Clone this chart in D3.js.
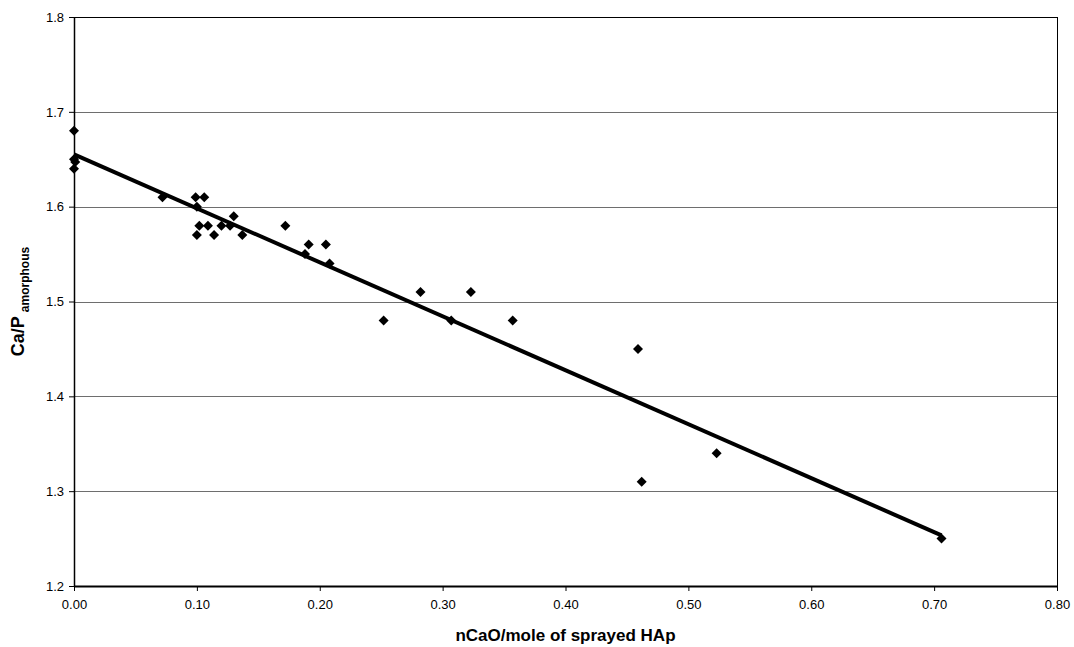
<!DOCTYPE html>
<html>
<head>
<meta charset="utf-8">
<script src="https://cdn.jsdelivr.net/npm/d3@7"></script>
<style>
  body { margin: 0; background: #fff; }
  svg { display: block; font-family: "Liberation Sans", Arial, sans-serif; }
</style>
</head>
<body>
<div id="chart"></div>
<script>
const width = 1074
const height = 647
const margin = { top: 17, right: 17, bottom: 61, left: 74 }

// nCaO per mole of sprayed HAp
const xValues = [0, 0, 0, 0.001, 0.072, 0.099, 0.106, 0.100, 0.102, 0.109, 0.100, 0.114, 0.120, 0.127,
  0.130, 0.137, 0.172, 0.188, 0.191, 0.205, 0.208, 0.252, 0.282, 0.307, 0.323, 0.357,
  0.459, 0.462, 0.523, 0.706]
// Ca/P amorphous
const yValues = [1.68, 1.65, 1.64, 1.647, 1.61, 1.61, 1.61, 1.60, 1.58, 1.58, 1.57, 1.57, 1.58, 1.58,
  1.59, 1.57, 1.58, 1.55, 1.56, 1.56, 1.54, 1.48, 1.51, 1.48, 1.51, 1.48,
  1.45, 1.31, 1.34, 1.25]

const xTicks = [0, 0.1, 0.2, 0.3, 0.4, 0.5, 0.6, 0.7, 0.8]
const yTicks = [1.2, 1.3, 1.4, 1.5, 1.6, 1.7, 1.8]

const points = xValues.map((x, i) => ({ x: x, y: yValues[i] }))

const svg = d3.select('#chart').append('svg')
  .attr('width', width)
  .attr('height', height)

const xScale = d3.scaleLinear().domain([0, 0.8]).range([margin.left, width - margin.right])
const yScale = d3.scaleLinear().domain([1.2, 1.8]).range([height - margin.bottom, margin.top])

// Gridlines
svg.append('g')
  .selectAll('line')
  .data(yTicks.slice(1, -1))
  .join('line')
  .attr('x1', margin.left)
  .attr('x2', width - margin.right)
  .attr('y1', (d) => Math.round(yScale(d)) + 0.5)
  .attr('y2', (d) => Math.round(yScale(d)) + 0.5)
  .attr('stroke', '#6e6e6e')
  .attr('stroke-width', 1)

// Plot frame (top, right)
svg.append('rect')
  .attr('x', margin.left + 0.5)
  .attr('y', margin.top + 0.5)
  .attr('width', width - margin.left - margin.right)
  .attr('height', height - margin.top - margin.bottom)
  .attr('fill', 'none')
  .attr('stroke', '#000')
  .attr('stroke-width', 1)

// Axes
const xAxis = svg.append('g')
  .attr('transform', `translate(0,${height - margin.bottom})`)
  .call(d3.axisBottom(xScale).tickValues(xTicks).tickFormat(d3.format('.2f')).tickSize(5).tickSizeOuter(0))
const yAxis = svg.append('g')
  .attr('transform', `translate(${margin.left},0)`)
  .call(d3.axisLeft(yScale).tickValues(yTicks).tickFormat(d3.format('.1f')).tickSize(5).tickSizeOuter(0))

xAxis.select('.domain').attr('stroke-width', 2)
yAxis.select('.domain').attr('stroke-width', 1.5)
xAxis.selectAll('text').attr('font-size', 13).attr('fill', '#000').attr('dy', '1.15em')
yAxis.selectAll('text').attr('font-size', 13).attr('fill', '#000').attr('x', -10)

// Linear trendline (least squares over the data)
const mx = d3.mean(points, (d) => d.x)
const my = d3.mean(points, (d) => d.y)
const slope = d3.sum(points, (d) => (d.x - mx) * (d.y - my)) / d3.sum(points, (d) => (d.x - mx) ** 2)
const intercept = my - slope * mx
const xMax = d3.max(points, (d) => d.x)
const trend = [{ x: 0, y: intercept }, { x: xMax, y: intercept + slope * xMax }]

svg.append('path')
  .datum(trend)
  .attr('d', d3.line().x((d) => xScale(d.x)).y((d) => yScale(d.y)))
  .attr('fill', 'none')
  .attr('stroke', '#000')
  .attr('stroke-width', 4)

// Diamond markers
const half = 5
svg.append('g')
  .selectAll('path')
  .data(points)
  .join('path')
  .attr('transform', (d) => `translate(${xScale(d.x)},${yScale(d.y)})`)
  .attr('d', `M0,${-half}L${half},0L0,${half}L${-half},0Z`)
  .attr('fill', '#000')

// Axis titles
svg.append('text')
  .attr('x', (margin.left + width - margin.right) / 2)
  .attr('y', 641)
  .attr('text-anchor', 'middle')
  .attr('font-size', 17)
  .attr('font-weight', 'bold')
  .text('nCaO/mole of sprayed HAp')

const yTitle = svg.append('text')
  .attr('transform', `translate(24,${(margin.top + height - margin.bottom) / 2}) rotate(-90)`)
  .attr('text-anchor', 'middle')
  .attr('font-weight', 'bold')
yTitle.append('tspan').attr('font-size', 18).text('Ca/P')
yTitle.append('tspan').attr('font-size', 12).attr('dy', 5).attr('dx', 4).text('amorphous')
</script>
</body>
</html>
